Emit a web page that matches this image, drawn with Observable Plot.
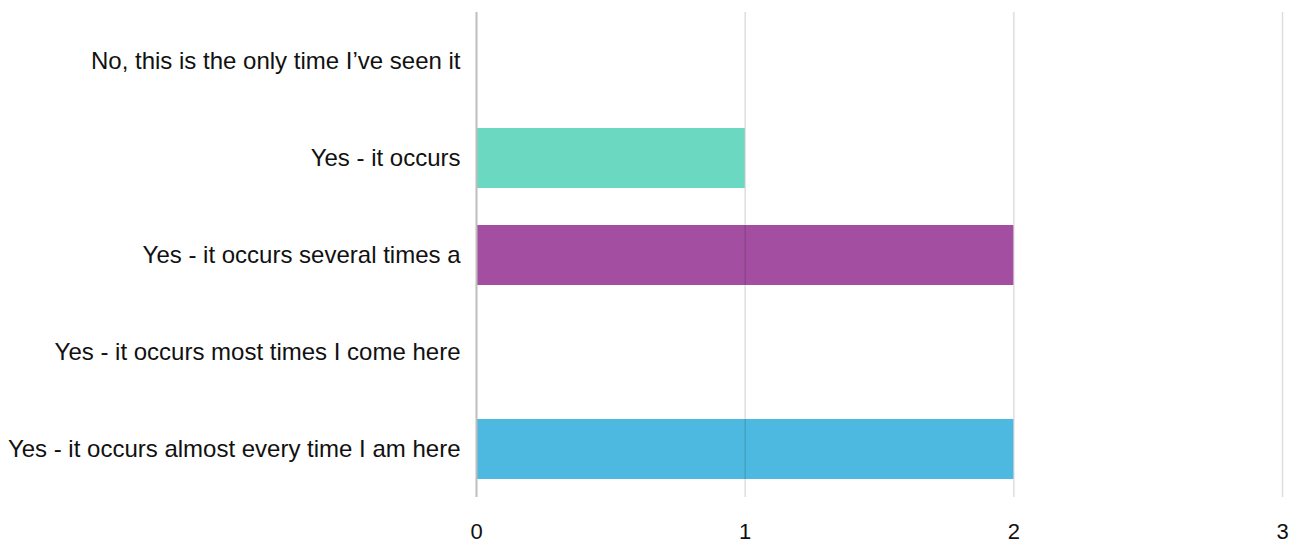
<!DOCTYPE html>
<html>
<head>
<meta charset="utf-8">
<script src="https://cdn.jsdelivr.net/npm/d3@7"></script>
<script src="https://cdn.jsdelivr.net/npm/@observablehq/plot@0.6"></script>
<style>
  html, body { margin: 0; padding: 0; background: #fff; }
  #chart svg { display: block; }
  #chart svg text { font-family: "Liberation Sans Narrow", "Arial Narrow", "Liberation Sans", sans-serif !important; fill: #111; }
  #chart svg g[aria-label="y-axis tick label"] text { font-size: 24px !important; }
  #chart svg g[aria-label="x-axis tick label"] text { font-size: 22px !important; }
</style>
</head>
<body>
<div id="chart"></div>
<script>
const categories = [
  "No, this is the only time I’ve seen it",
  "Yes - it occurs",
  "Yes - it occurs several times a",
  "Yes - it occurs most times I come here",
  "Yes - it occurs almost every time I am here"
];
const counts = [0, 1, 2, 0, 2];
const barColors = ["#f6a04d", "#6bd8c1", "#a34ea1", "#f26d7d", "#4eb9e0"];
const xTicks = [0, 1, 2, 3];

const data = categories.map((c, i) => ({category: c, value: counts[i], color: barColors[i]}));

const plot = Plot.plot({
  width: 1299,
  height: 546,
  marginLeft: 476,
  marginRight: 17,
  marginTop: 12,
  marginBottom: 49,
  style: {background: "#fff"},
  x: {domain: [0, 3], label: null},
  y: {domain: categories, paddingInner: 0.384, paddingOuter: 0.185, label: null},
  marks: [
    Plot.barX(data, {x: "value", y: "category", fill: "color"}),
    Plot.ruleX(xTicks.filter(d => d > 0), {stroke: "#000", strokeOpacity: 0.13, strokeWidth: 1.5}),
    Plot.ruleX([0], {stroke: "#bdbdbd", strokeWidth: 2}),
    Plot.axisX({ticks: xTicks, tickSize: 0, tickPadding: 26, tickFormat: d3.format("d"), label: null}),
    Plot.axisY({tickSize: 0, tickPadding: 16, label: null})
  ]
});
document.getElementById("chart").appendChild(plot);
</script>
</body>
</html>
